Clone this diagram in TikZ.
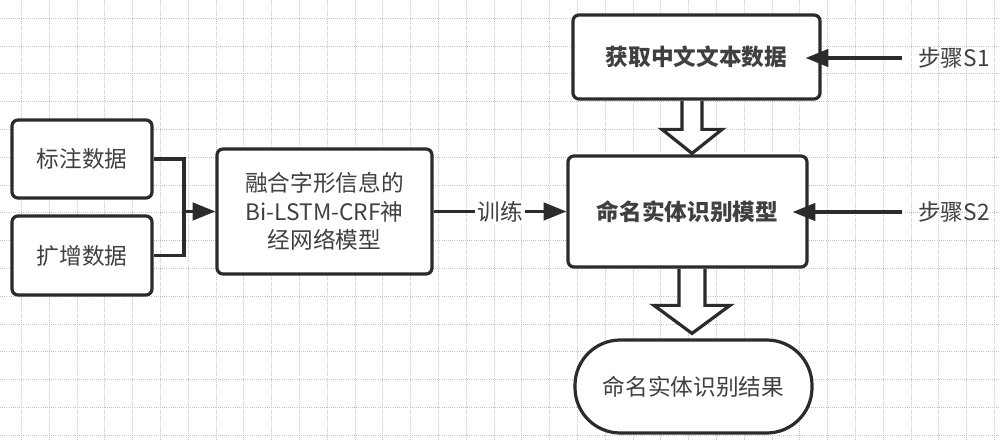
\documentclass[tikz,border=0pt]{standalone}
\usepackage{fontspec}
\setmainfont{Noto Sans CJK SC}
\usetikzlibrary{arrows.meta,calc}
\pgfdeclarelayer{gridlayer}
\pgfdeclarelayer{midlayer}
\pgfsetlayers{gridlayer,midlayer,main}
\definecolor{linec}{HTML}{2B2B2B}
\definecolor{textc}{HTML}{404040}
\definecolor{gridc}{HTML}{C4C4C4}
\tikzset{
  box/.style={draw=linec, line width=2.4pt, rounded corners=4.5pt, fill=white,
    text=textc, inner sep=0pt, align=center,
    font=\fontsize{17}{21.4}\selectfont},
  boldbox/.style={box, font=\fontsize{17}{21.4}\selectfont\bfseries},
  stadium/.style={box, rounded corners=34pt},
  lbl/.style={text=textc, inner sep=0pt, font=\fontsize{17}{21.4}\selectfont},
  conn/.style={draw=linec, line width=2.4pt},
  arr/.style={conn, -{Triangle[length=17pt, width=13pt]}},
  hollow/.style={draw=linec, line width=2.4pt, fill=white, line join=miter},
}
\begin{document}
\begin{tikzpicture}[x=0.75pt, y=-0.75pt]
\useasboundingbox (0,0) rectangle (1000,441);
\begin{pgfonlayer}{gridlayer}
\fill[white] (0,0) rectangle (1000,441);
\foreach \k in {0,...,35} {
  \draw[gridc, line width=0.6pt, densely dotted] ({21.3+27.8*\k},0) -- ({21.3+27.8*\k},441);
}
\foreach \k in {0,...,15} {
  \draw[gridc, line width=0.6pt, densely dotted] (0,{18.3+27.8*\k}) -- (1000,{18.3+27.8*\k});
}
\end{pgfonlayer}

% nodes
\node[box, minimum width=140*0.75pt, minimum height=78*0.75pt] (biaozhu) at (82,159) {标注数据};
\node[box, minimum width=140*0.75pt, minimum height=79*0.75pt] (kuozeng) at (82,255.5) {扩增数据};
\node[box, minimum width=215*0.75pt, minimum height=125*0.75pt] (model) at (324.5,211.5) {融合字形信息的\\Bi-LSTM-CRF神\\经网络模型};
\node[boldbox, minimum width=247*0.75pt, minimum height=84*0.75pt] (top) at (696.5,57) {获取中文文本数据};
\node[boldbox, minimum width=239*0.75pt, minimum height=111*0.75pt] (mainm) at (687.5,211.5) {命名实体识别模型};
\node[stadium, minimum width=237*0.75pt, minimum height=93*0.75pt] (result) at (693.5,386.5) {命名实体识别结果};
\node[lbl, anchor=west] (s1) at (918,58) {步骤S1};
\node[lbl, anchor=west] (s2) at (918,212) {步骤S2};

% connectors
\coordinate (j) at (184,211.5);
\draw[conn, line join=miter] (biaozhu.east) -| (j) |- (kuozeng.east);
\draw[arr] (j) -- (model.west);
\draw[arr] (model.east) -- node[lbl, fill=white, inner xsep=2pt, inner ysep=1pt] {训练} (mainm.west);
\draw[arr] ([xshift=-12pt]s1.west) -- ([xshift=-12pt]s1.west -| top.east);
\draw[arr] ([xshift=-12pt]s2.west) -- ([xshift=-12pt]s2.west -| mainm.east);

% hollow arrows
\coordinate (ax) at (692,0);
\begin{pgfonlayer}{midlayer}
\draw[hollow] ($(top.south -| ax)+(-10,0)$) -- ($(mainm.north -| ax)+(-10,-25)$)
  -- ($(mainm.north -| ax)+(-30,-25)$) -- ($(mainm.north -| ax)+(0,-1)$)
  -- ($(mainm.north -| ax)+(30,-25)$) -- ($(mainm.north -| ax)+(10,-25)$)
  -- ($(top.south -| ax)+(10,0)$);
\draw[hollow] ($(mainm.south -| ax)+(-13,0)$) -- ($(result.north -| ax)+(-13,-33)$)
  -- ($(result.north -| ax)+(-38,-33)$) -- ($(result.north -| ax)+(0,-5)$)
  -- ($(result.north -| ax)+(38,-33)$) -- ($(result.north -| ax)+(13,-33)$)
  -- ($(mainm.south -| ax)+(13,0)$);
\end{pgfonlayer}
\end{tikzpicture}
\end{document}
